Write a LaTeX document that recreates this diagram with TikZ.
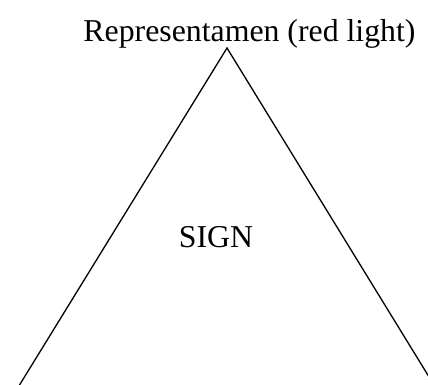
\documentclass[tikz,border=0pt]{standalone}
\usepackage{fontspec}
\setmainfont{Liberation Serif}
\begin{document}
\begin{tikzpicture}[x=1pt,y=1pt,
  lbl/.style={inner sep=0pt, anchor=base, font=\fontsize{31.8}{37}\selectfont},
  side/.style={draw=black, line width=1.3pt}]
\useasboundingbox (0,0) rectangle (428,385);
\clip (0,0) rectangle (428,385);
\coordinate (apex) at (227,337);
\coordinate (bl) at (19.5,0);
\coordinate (br) at (434,0);
\node[lbl] (rep) at (249.5,343) {Representamen (red light)};
\node[lbl] (sign) at (216,137) {SIGN};
\draw[side] (bl) -- (apex) -- (br);
\end{tikzpicture}
\end{document}
